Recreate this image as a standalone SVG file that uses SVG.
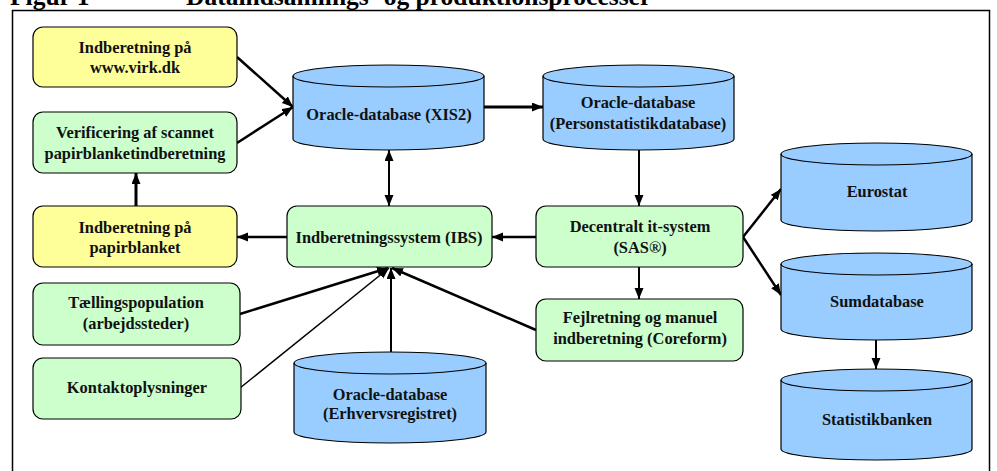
<svg xmlns="http://www.w3.org/2000/svg" width="997" height="471" viewBox="0 0 997 471">
<defs>
<marker id="ah" markerUnits="userSpaceOnUse" markerWidth="12" markerHeight="10" refX="11" refY="4.5" orient="auto-start-reverse">
<path d="M0,0 L11,4.5 L0,9 z" fill="#000"/>
</marker>
</defs>
<style>
text{font-weight:bold;font-size:16.4px;fill:#111;text-anchor:middle}
.title{font-size:25.5px;text-anchor:start;fill:#000}
.box{stroke:#000;stroke-width:1.2}
.y{fill:#FFFF99}
.g{fill:#CCFFCC}
.b{fill:#99CCFF;stroke:#000;stroke-width:1.2}
.c{stroke:#000;fill:none;marker-end:url(#ah)}
</style>
<rect width="997" height="471" fill="#fff"/>
<g font-family="Liberation Serif, Times New Roman, serif">
<text class="title" x="10" y="5">Figur 1</text>
<text class="title" x="186" y="5">Dataindsamlings- og produktionsprocesser</text>
</g>
<rect x="12.5" y="10.5" width="977" height="480" fill="none" stroke="#000" stroke-width="1.5"/>

<g id="connectors">
<line class="c" x1="237" y1="57" x2="293" y2="107" stroke-width="2.5"/>
<line class="c" x1="237" y1="143" x2="293" y2="107" stroke-width="2.5"/>
<line class="c" x1="484" y1="107" x2="543" y2="107" stroke-width="3"/>
<line class="c" x1="389" y1="150" x2="389" y2="206" stroke-width="2" marker-start="url(#ah)"/>
<line class="c" x1="639" y1="150" x2="639" y2="206" stroke-width="2"/>
<line class="c" x1="536" y1="237" x2="492" y2="237" stroke-width="2.5"/>
<line class="c" x1="287" y1="237" x2="237" y2="237" stroke-width="2.5"/>
<line class="c" x1="136" y1="206" x2="136" y2="173" stroke-width="3"/>
<line class="c" x1="639" y1="267" x2="639" y2="299" stroke-width="2"/>
<line class="c" x1="743" y1="237" x2="781" y2="189" stroke-width="2.5"/>
<line class="c" x1="743" y1="237" x2="781" y2="295" stroke-width="2.5"/>
<line class="c" x1="876" y1="340" x2="876" y2="369" stroke-width="2"/>
<line class="c" x1="240" y1="314" x2="388" y2="268" stroke-width="2.5"/>
<line class="c" x1="240" y1="388" x2="389" y2="268" stroke-width="1.5"/>
<line class="c" x1="391" y1="352" x2="391" y2="268" stroke-width="2"/>
<line class="c" x1="536" y1="330" x2="392" y2="268" stroke-width="2.5"/>
</g>

<g font-family="Liberation Serif, Times New Roman, serif">
<g id="virk">
<rect class="box y" x="33" y="27" width="204" height="60" rx="10"/>
<text x="135" y="53">Indberetning på</text>
<text x="135" y="73">www.virk.dk</text>
</g>
<g id="verificering">
<rect class="box g" x="33" y="112" width="204" height="61" rx="10"/>
<text x="135" y="138">Verificering af scannet</text>
<text x="135" y="159">papirblanketindberetning</text>
</g>
<g id="papirblanket">
<rect class="box y" x="33" y="206" width="204" height="61" rx="10"/>
<text x="135" y="233">Indberetning på</text>
<text x="135" y="253">papirblanket</text>
</g>
<g id="taelling">
<rect class="box g" x="33" y="283" width="207" height="62" rx="10"/>
<text x="136" y="308">Tællingspopulation</text>
<text x="136" y="329">(arbejdssteder)</text>
</g>
<g id="kontakt">
<rect class="box g" x="33" y="358" width="208" height="61" rx="10"/>
<text x="137" y="393">Kontaktoplysninger</text>
</g>
<g id="ibs">
<rect class="box g" x="287" y="206" width="205" height="61" rx="10"/>
<text x="389" y="243">Indberetningssystem (IBS)</text>
</g>
<g id="sas">
<rect class="box g" x="536" y="206" width="207" height="61" rx="10"/>
<text x="640" y="232">Decentralt it-system</text>
<text x="640" y="253">(SAS®)</text>
</g>
<g id="fejl">
<rect class="box g" x="536" y="299" width="207" height="62" rx="10"/>
<text x="640" y="323">Fejlretning og manuel</text>
<text x="640" y="344">indberetning (Coreform)</text>
</g>

<g id="xis2">
<path class="b" d="M293,76 A95.5,11 0 0 1 484,76 V139 A95.5,11 0 0 1 293,139 Z"/>
<path d="M293,76 A95.5,11 0 0 0 484,76" fill="none" stroke="#000" stroke-width="1.2"/>
<text x="389" y="120">Oracle-database (XIS2)</text>
</g>
<g id="person">
<path class="b" d="M543,76 A95.5,11 0 0 1 734,76 V139 A95.5,11 0 0 1 543,139 Z"/>
<path d="M543,76 A95.5,11 0 0 0 734,76" fill="none" stroke="#000" stroke-width="1.2"/>
<text x="638" y="108">Oracle-database</text>
<text x="638" y="129">(Personstatistikdatabase)</text>
</g>
<g id="erhverv">
<path class="b" d="M294,363 A96,11 0 0 1 486,363 V432 A96,11 0 0 1 294,432 Z"/>
<path d="M294,363 A96,11 0 0 0 486,363" fill="none" stroke="#000" stroke-width="1.2"/>
<text x="390" y="400">Oracle-database</text>
<text x="390" y="419">(Erhvervsregistret)</text>
</g>
<g id="eurostat">
<path class="b" d="M781,154 A95.5,11 0 0 1 972,154 V220 A95.5,11 0 0 1 781,220 Z"/>
<path d="M781,154 A95.5,11 0 0 0 972,154" fill="none" stroke="#000" stroke-width="1.2"/>
<text x="877" y="197">Eurostat</text>
</g>
<g id="sumdatabase">
<path class="b" d="M781,264 A95.5,11 0 0 1 972,264 V329 A95.5,11 0 0 1 781,329 Z"/>
<path d="M781,264 A95.5,11 0 0 0 972,264" fill="none" stroke="#000" stroke-width="1.2"/>
<text x="877" y="307">Sumdatabase</text>
</g>
<g id="statistikbanken">
<path class="b" d="M781,380 A95.5,11 0 0 1 972,380 V449 A95.5,11 0 0 1 781,449 Z"/>
<path d="M781,380 A95.5,11 0 0 0 972,380" fill="none" stroke="#000" stroke-width="1.2"/>
<text x="877" y="425">Statistikbanken</text>
</g>
</g>
</svg>
